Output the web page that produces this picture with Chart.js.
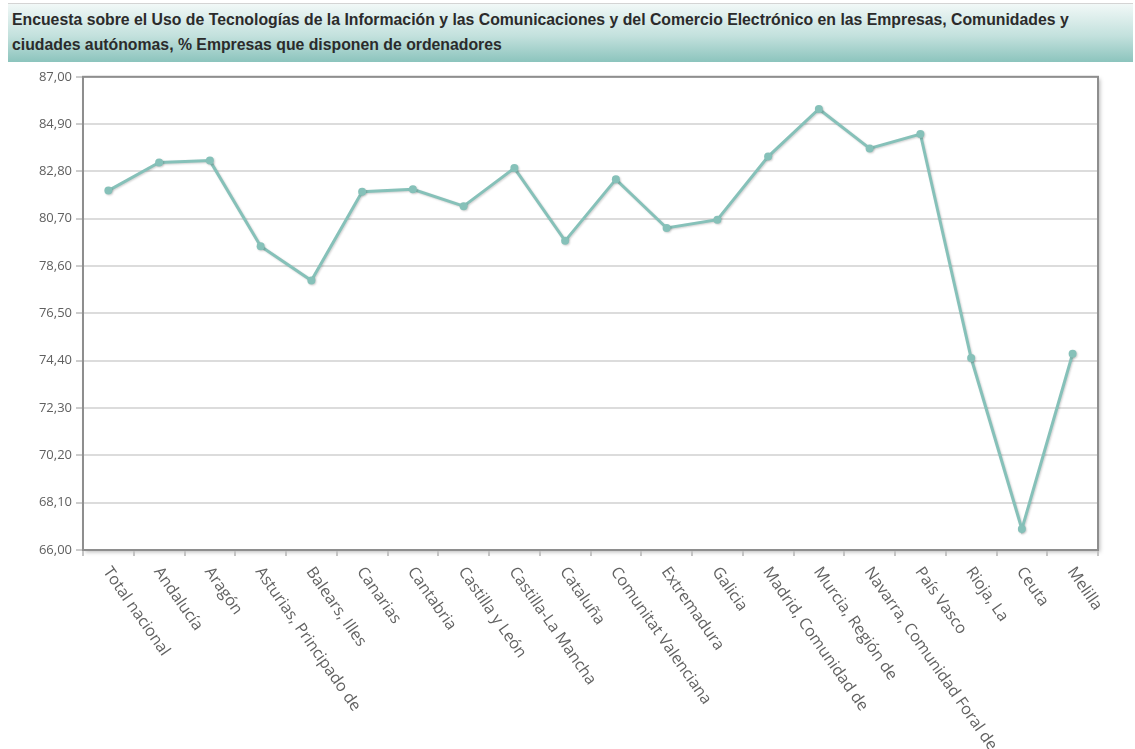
<!DOCTYPE html>
<html>
<head>
<meta charset="utf-8">
<script src="https://cdn.jsdelivr.net/npm/chart.js@4"></script>
<style>
  html, body { margin: 0; padding: 0; background: #fff; width: 1135px; height: 749px; overflow: hidden; }
  #titleBar {
    position: absolute; left: 8px; top: 3px; width: 1121px; height: 55px;
    padding: 3px 0 0 4px;
    background: linear-gradient(to bottom, #f1f8f7 0%, #c3e1dd 55%, #8cc4bd 100%);
    border-top: 1px solid #d4d4d4;
    font-family: "Liberation Sans", Arial, sans-serif; font-weight: bold; font-size: 15.8px;
    line-height: 25px; color: #2b2b2b;
  }
  #chartBox { position: absolute; left: 0; top: 65px; width: 1135px; height: 684px; }
</style>
</head>
<body>
<div id="titleBar">Encuesta sobre el Uso de Tecnologías de la Información y las Comunicaciones y del Comercio Electrónico en las Empresas, Comunidades y<br>ciudades autónomas, % Empresas que disponen de ordenadores</div>
<div id="chartBox"><canvas id="lineChart"></canvas></div>
<script>
// Comunidades y ciudades autónomas
const regions = [
  'Total nacional', 'Andalucía', 'Aragón', 'Asturias, Principado de', 'Balears, Illes',
  'Canarias', 'Cantabria', 'Castilla y León', 'Castilla-La Mancha', 'Cataluña',
  'Comunitat Valenciana', 'Extremadura', 'Galicia', 'Madrid, Comunidad de', 'Murcia, Región de',
  'Navarra, Comunidad Foral de', 'País Vasco', 'Rioja, La', 'Ceuta', 'Melilla'
];

// % empresas que disponen de ordenadores
const pctOrdenadores = [
  81.95, 83.20, 83.28, 79.48, 77.96,
  81.90, 82.01, 81.26, 82.95, 79.72,
  82.45, 80.29, 80.66, 83.46, 85.57,
  83.82, 84.46, 74.52, 66.93, 74.71
];

const yTicks = [66.0, 68.1, 70.2, 72.3, 74.4, 76.5, 78.6, 80.7, 82.8, 84.9, 87.0];

const lineColor = '#86c1b9';
const labelFont = '"Open Sans", sans-serif';

// white plot area with a soft drop shadow and a grey frame
const plotFrame = {
  id: 'plotFrame',
  beforeDraw(chart) {
    const { ctx, chartArea: a } = chart;
    ctx.save();
    ctx.shadowColor = 'rgba(0,0,0,0.28)';
    ctx.shadowBlur = 4;
    ctx.shadowOffsetX = 2;
    ctx.shadowOffsetY = 2;
    ctx.fillStyle = '#fff';
    ctx.fillRect(a.left, a.top, a.right - a.left, a.bottom - a.top);
    ctx.restore();
  },
  beforeDatasetsDraw(chart) {
    const ctx = chart.ctx;
    ctx.save();
    ctx.shadowColor = 'rgba(0,0,0,0.18)';
    ctx.shadowBlur = 2;
    ctx.shadowOffsetX = 1;
    ctx.shadowOffsetY = 1;
  },
  afterDatasetsDraw(chart) {
    chart.ctx.restore();
  },
  afterDraw(chart) {
    const { ctx, chartArea: a } = chart;
    ctx.save();
    ctx.strokeStyle = '#8e8e8e';
    ctx.lineWidth = 2;
    ctx.strokeRect(a.left, a.top, a.right - a.left, a.bottom - a.top);
    ctx.restore();
  }
};

// category labels turned clockwise, starting under each tick
const slantedLabels = {
  id: 'slantedLabels',
  afterDraw(chart) {
    const { ctx } = chart;
    const xs = chart.scales.x;
    const ang = 55 * Math.PI / 180;
    ctx.save();
    ctx.font = '16px ' + labelFont;
    ctx.fillStyle = '#626262';
    ctx.textAlign = 'left';
    ctx.textBaseline = 'middle';
    regions.forEach((name, i) => {
      const px = xs.getPixelForValue(i);
      ctx.save();
      ctx.translate(px - 2, xs.top + 19);
      ctx.rotate(ang);
      ctx.fillText(name, 0, 0);
      ctx.restore();
    });
    ctx.restore();
  }
};

new Chart(document.getElementById('lineChart'), {
  type: 'line',
  data: {
    labels: regions,
    datasets: [{
      data: pctOrdenadores,
      borderColor: lineColor,
      backgroundColor: lineColor,
      borderWidth: 3,
      pointRadius: 4,
      pointHoverRadius: 5,
      pointBorderWidth: 0,
      tension: 0
    }]
  },
  options: {
    responsive: true,
    maintainAspectRatio: false,
    animation: false,
    layout: { padding: { top: 11, right: 37, left: 0, bottom: 0 } },
    plugins: {
      legend: { display: false },
      tooltip: { enabled: false }
    },
    scales: {
      x: {
        offset: true,
        grid: {
          offset: true,
          drawOnChartArea: false,
          drawTicks: true,
          tickLength: 6,
          color: '#c4c4c4',
          lineWidth: 2
        },
        border: { display: false },
        ticks: { display: false },
        afterFit(scale) { scale.height = 199; }
      },
      y: {
        min: 66,
        max: 87,
        grid: {
          color: '#dcdcdc',
          lineWidth: 2,
          tickLength: 7,
          tickColor: '#9a9a9a',
          tickWidth: 1
        },
        border: { display: false },
        ticks: {
          color: '#606060',
          padding: 4,
          font: { family: labelFont, size: 13 },
          callback: v => Number(v).toFixed(2).replace('.', ',')
        },
        afterBuildTicks(scale) {
          scale.ticks = yTicks.map(v => ({ value: v }));
        },
        afterFit(scale) { scale.width = 83; }
      }
    }
  },
  plugins: [plotFrame, slantedLabels]
});
</script>
</body>
</html>
